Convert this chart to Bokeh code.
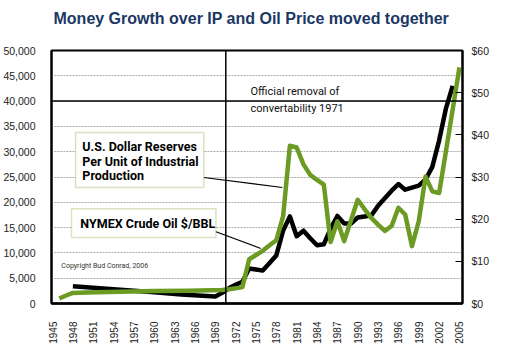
from math import pi
from bokeh.plotting import figure
from bokeh.models import (Range1d, LinearAxis, FixedTicker, NumeralTickFormatter,
                          Span, BoxAnnotation, Label)
from bokeh.embed import file_html
from bokeh.resources import INLINE

# ---------------- data ----------------
title_text = "Money Growth over IP and Oil Price moved together"
year_ticks = list(range(1945, 2006, 3))
left_ticks = list(range(0, 50001, 5000))
right_ticks = list(range(0, 61, 10))

money_years = [1948, 1952, 1956, 1960, 1964, 1969, 1970, 1971, 1972, 1973, 1974,
               1975, 1976, 1977, 1978, 1979, 1980, 1981, 1982, 1983, 1984, 1985,
               1986, 1987, 1988, 1989, 1990, 1991, 1992, 1993, 1994, 1995, 1996,
               1997, 1998, 1999, 2000, 2001, 2002, 2003, 2004]
money_values = [3400, 3000, 2600, 2200, 1800, 1400, 2100, 3000, 3700, 4300, 6900,
                6700, 6500, 8000, 9500, 14400, 17200, 13300, 14400, 12900, 11500, 11700,
                14800, 17300, 15800, 15800, 17000, 17200, 17400, 19300, 20800, 22300, 23600,
                22500, 22900, 23300, 24500, 27000, 32200, 38500, 43000]

oil_years = [1946, 1947, 1948, 1950, 1955, 1960, 1965, 1970, 1971, 1972, 1973,
             1974, 1975, 1976, 1977, 1978, 1979, 1980, 1981, 1982, 1983, 1984,
             1985, 1986, 1987, 1988, 1989, 1990, 1991, 1992, 1993, 1994, 1995,
             1996, 1997, 1998, 1999, 2000, 2001, 2002, 2003, 2004, 2005]
oil_values = [1.2, 1.9, 2.5, 2.6, 2.8, 2.95, 3.05, 3.2, 3.4, 3.6, 3.9,
              10.5, 11.5, 12.5, 13.8, 15.0, 20.7, 37.4, 37.0, 33.0, 30.5, 29.3,
              28.2, 14.6, 19.5, 14.8, 19.7, 24.6, 22.4, 20.3, 18.7, 17.2, 18.4,
              22.7, 21.1, 13.6, 19.5, 30.1, 26.6, 26.2, 36.0, 46.0, 56.0]

GREEN = "#6b9b22"
BOX_GREEN = "#7ea335"
NARROW = "Roboto"

p = figure(frame_width=411, frame_height=253, x_range=Range1d(1944.85, 2005.45),
           y_range=Range1d(0, 50000), output_backend="svg", toolbar_location=None,
           min_border_left=44, min_border_right=43, min_border_top=50, min_border_bottom=40)
p.extra_y_ranges = {"oil": Range1d(0, 60)}
p.background_fill_color = "white"
p.outline_line_color = "black"
p.outline_line_width = 2

# title (an empty second line lifts the text towards the top of the page)
p.title.text = title_text + "\n "
p.title.align = "left"
p.title.vertical_align = "top"
p.title.offset = 2
p.title.standoff = 10
p.title.text_font = "Liberation Sans"
p.title.text_font_size = "16px"
p.title.text_font_style = "bold"
p.title.text_color = "#1b3764"

# x axis
p.xaxis.ticker = FixedTicker(ticks=year_ticks)
p.xaxis.major_label_orientation = pi / 2
p.xaxis.major_tick_line_color = None
p.xaxis.minor_tick_line_color = None
p.xaxis.axis_line_width = 2.5
p.xaxis.major_label_standoff = 12
p.xaxis.major_label_text_font_size = "10px"
p.xaxis.major_label_text_font = "Liberation Sans"
p.xaxis.major_label_text_color = "#222222"

# left axis
p.yaxis.ticker = FixedTicker(ticks=left_ticks)
p.yaxis.formatter = NumeralTickFormatter(format="0,0")
p.yaxis.major_tick_line_color = None
p.yaxis.minor_tick_line_color = None
p.yaxis.axis_line_width = 2
p.yaxis.major_label_standoff = 10
p.yaxis.major_label_text_font_size = "10.5px"
p.yaxis.major_label_text_font = "Liberation Sans"
p.yaxis.major_label_text_color = "#222222"

# right axis
ra = LinearAxis(y_range_name="oil", ticker=FixedTicker(ticks=right_ticks),
                formatter=NumeralTickFormatter(format="$0"))
ra.major_tick_in = 7
ra.major_tick_out = 0
ra.minor_tick_line_color = None
ra.axis_line_width = 2
ra.major_label_standoff = 9
ra.major_label_text_font_size = "10.5px"
ra.major_label_text_font = "Liberation Sans"
ra.major_label_text_color = "#222222"
p.add_layout(ra, "right")

# grid
p.xgrid.visible = False
p.ygrid.ticker = FixedTicker(ticks=left_ticks)
p.ygrid.grid_line_color = "#aaaaaa"
p.ygrid.grid_line_dash = "2 1"
p.ygrid.grid_line_width = 1

# reference lines
p.add_layout(Span(location=40000, dimension="width", line_color="black", line_width=1.5))
p.add_layout(Span(location=1970.55, dimension="height", line_color="black", line_width=1.5))

# series
p.line(money_years, money_values, line_color="black", line_width=4.5, line_join="round")
p.line(oil_years, oil_values, y_range_name="oil", line_color=GREEN, line_width=4.5,
       line_join="round")

# leader lines
p.segment(x0=[1967.3, 1969.0], y0=[24900, 14230], x1=[1978.9, 1975.7], y1=[22920, 10870],
          line_color="black", line_width=1.2)

# callout boxes
p.add_layout(BoxAnnotation(left=1948.4, right=1967.3, top=33790, bottom=22920,
                           fill_color="white", fill_alpha=1, line_color=BOX_GREEN,
                           line_width=1.5))
p.add_layout(BoxAnnotation(left=1947.8, right=1969.1, top=18710, bottom=13040,
                           fill_color="white", fill_alpha=1, line_color=BOX_GREEN,
                           line_width=1.5))

def lab(x, y, text, size, bold=False, font=NARROW, color="black", **kw):
    p.add_layout(Label(x=x, y=y, text=text, text_font=font, text_font_size=size,
                       text_font_style="bold" if bold else "normal", text_color=color,
                       text_baseline="middle", **kw))

lab(1949.4, 31020, "U.S. Dollar Reserves", "12.5px", bold=True)
lab(1949.4, 28120, "Per Unit of Industrial", "12.5px", bold=True)
lab(1949.4, 25290, "Production", "12.5px", bold=True)
lab(1949.1, 15810, "NYMEX Crude Oil $/BBL", "12.5px", bold=True)
lab(1974.2, 41950, "Official removal of", "11px", color="#111111")
lab(1974.2, 38470, "convertability 1971", "11px", color="#111111")
lab(1946.3, 7500, "Copyright Bud Conrad, 2006", "7px", color="#333333")

open("out.html", "w").write(file_html(p, INLINE))
